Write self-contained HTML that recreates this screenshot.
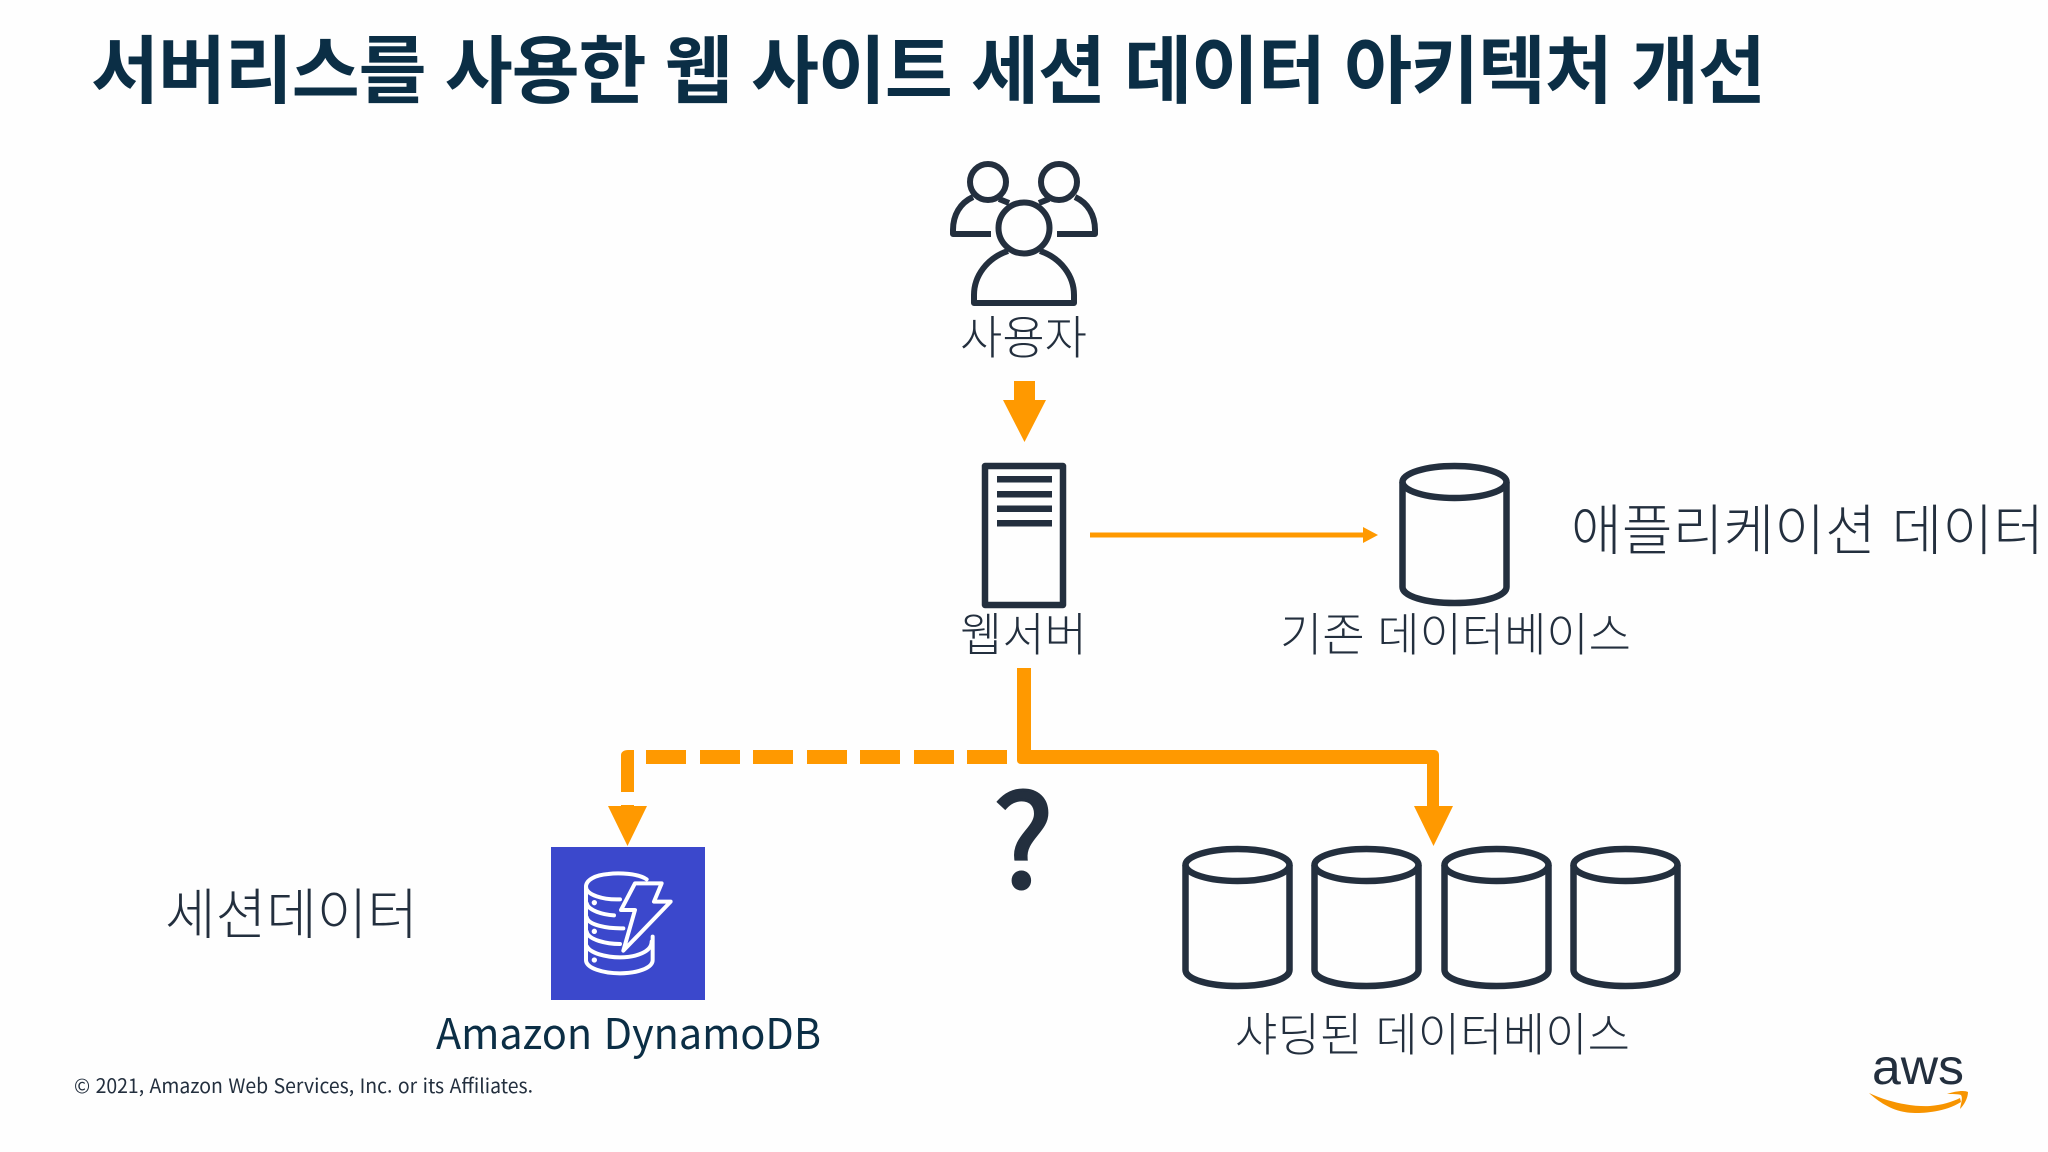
<!DOCTYPE html>
<html lang="ko"><head><meta charset="utf-8"><title>서버리스를 사용한 웹 사이트 세션 데이터 아키텍처 개선</title>
<style>
html,body{margin:0;padding:0;background:#fff;width:2048px;height:1152px;overflow:hidden}
svg{display:block}
.k{font-family:"Liberation Sans","Noto Sans CJK KR",sans-serif;fill:#232f3e;font-weight:300}
.d{fill:none;stroke:#232f3e;stroke-width:6.500;stroke-linejoin:round}
.o{fill:#ff9900}
</style></head><body>
<svg width="2048" height="1152" viewBox="0 0 2048 1152" xmlns="http://www.w3.org/2000/svg">
<rect width="2048" height="1152" fill="#fefefe"/>
<text class="k" x="91" y="97" font-size="74" textLength="1675" lengthAdjust="spacing" style="font-weight:700;fill:#0b2e45">서버리스를 사용한 웹 사이트 세션 데이터 아키텍처 개선</text>

<!-- users -->
<circle class="d" cx="988" cy="182" r="18" style="stroke-width:6"/><circle class="d" cx="1059" cy="182" r="18" style="stroke-width:6"/>
<path class="d" style="stroke-width:6" d="M991 234H953V230C953 215 960 203 973 197M999 199L1009 203M1057 234H1095V230C1095 215 1088 203 1075 197M1049 199L1039 203"/>
<circle class="d" cx="1024" cy="228" r="25.500" style="stroke-width:6"/>
<path class="d" style="stroke-width:6" d="M1008 251C987 258 974 276 974 295V303H1074V295C1074 276 1061 258 1040 251"/>
<text class="k" x="960" y="354" font-size="46" textLength="127" lengthAdjust="spacing">사용자</text>

<!-- arrow 1 -->
<path class="o" d="M1014 381H1035V400H1046L1024.500 442L1003 400H1014Z"/>

<!-- server -->
<rect class="d" x="985" y="466" width="78" height="139"/>
<rect x="997" y="476" width="55" height="6.500" fill="#232f3e"/><rect x="997" y="491" width="55" height="6.500" fill="#232f3e"/><rect x="997" y="505.500" width="55" height="6.500" fill="#232f3e"/><rect x="997" y="520" width="55" height="6.500" fill="#232f3e"/>
<text class="k" x="960" y="651" font-size="46" textLength="127" lengthAdjust="spacing">웹서버</text>

<!-- h arrow -->
<path class="o" d="M1090 532.500H1363V527L1378 535L1363 543V537.500H1090Z"/>

<!-- old db -->
<g><ellipse class="d" cx="1454.500" cy="482" rx="52" ry="16"/><path class="d" d="M1402.500 482V587C1402.500 596 1425 603 1454.500 603C1484 603 1506.500 596 1506.500 587V482"/></g>
<text class="k" x="1280" y="651" font-size="46" textLength="351" lengthAdjust="spacing">기존 데이터베이스</text>
<text class="k" x="1571" y="550" font-size="55" textLength="473" lengthAdjust="spacing">애플리케이션 데이터</text>

<!-- connectors -->
<path class="o" d="M1017 668H1031V750H1434C1437 750 1439 752 1439 755V806H1453L1433.500 846L1414 806H1427V764H1021C1018 764 1017 762 1017 760Z"/>
<g class="o"><rect x="646" y="750" width="40" height="14"/><rect x="700" y="750" width="40" height="14"/><rect x="753" y="750" width="40" height="14"/><rect x="807" y="750" width="40" height="14"/><rect x="860" y="750" width="40" height="14"/><rect x="914" y="750" width="40" height="14"/><rect x="967" y="750" width="40" height="14"/>
<path d="M621 792V755C621 752 624 750 628 750H634V792Z"/>
<path d="M621 805H634V806H647L627.500 846L608 806H621Z"/></g>

<text x="993" y="888" font-size="128" fill="#232f3e" stroke="#232f3e" stroke-width="3" font-family="'Noto Sans CJK KR',sans-serif">?</text>

<!-- dynamodb -->
<rect x="551" y="847" width="154" height="153" fill="#3b48cc"/>
<g transform="translate(540 840) scale(.3333)" fill="none" stroke="#fff" stroke-width="12" stroke-linejoin="round" stroke-linecap="round">
<path d="M320 118C295 100 235 98 205 102C165 105 138 120 138 140C138 165 190 180 240 178"/>
<path d="M138 140V360C138 385 190 400 240 400C290 400 338 385 338 360V290"/>
<path d="M140 190C145 212 190 224 222 226M140 232C145 255 200 266 250 265M140 275C145 300 200 312 240 312M140 318C150 340 200 352 240 352C290 352 335 335 335 305"/>
<path d="M285 130H365L342 185H392L250 332L285 210H243Z" fill="#3b48cc"/>
<g fill="#fff" stroke="none"><circle cx="163" cy="188" r="8"/><circle cx="163" cy="274" r="8"/><circle cx="163" cy="360" r="8"/></g>
</g>

<text x="436" y="1049" font-size="42" textLength="385" lengthAdjust="spacingAndGlyphs" fill="#0b2e45" font-family="'Noto Sans CJK KR','Liberation Sans',sans-serif">Amazon DynamoDB</text>
<text class="k" x="165" y="934" font-size="55" textLength="253" lengthAdjust="spacing">세션데이터</text>

<!-- shards -->
<g><ellipse class="d" cx="1237.500" cy="865" rx="52" ry="16"/><path class="d" d="M1185.500 865V970C1185.500 979 1208 986 1237.500 986C1267 986 1289.500 979 1289.500 970V865"/></g>
<g><ellipse class="d" cx="1366.500" cy="865" rx="52" ry="16"/><path class="d" d="M1314.500 865V970C1314.500 979 1337 986 1366.500 986C1396 986 1418.500 979 1418.500 970V865"/></g>
<g><ellipse class="d" cx="1496.500" cy="865" rx="52" ry="16"/><path class="d" d="M1444.500 865V970C1444.500 979 1467 986 1496.500 986C1526 986 1548.500 979 1548.500 970V865"/></g>
<g><ellipse class="d" cx="1625.500" cy="865" rx="52" ry="16"/><path class="d" d="M1573.500 865V970C1573.500 979 1596 986 1625.500 986C1655 986 1677.500 979 1677.500 970V865"/></g>
<text class="k" x="1235" y="1051" font-size="46" textLength="395" lengthAdjust="spacing">샤딩된 데이터베이스</text>

<text x="74" y="1093" font-size="20" textLength="459" lengthAdjust="spacingAndGlyphs" fill="#232f3e" font-family="'Noto Sans CJK KR','Liberation Sans',sans-serif">© 2021, Amazon Web Services, Inc. or its Affiliates.</text>

<!-- aws -->
<text x="1872" y="1084" font-size="50" textLength="92" lengthAdjust="spacingAndGlyphs" fill="#232f3e" font-family="'Liberation Sans',sans-serif">aws</text>
<path fill="#f79400" d="M1869 1093C1890 1103 1915 1107 1930 1106C1942 1105 1952 1102 1960 1098L1961 1102C1945 1112 1925 1113 1915 1113C1895 1113 1880 1103 1869 1093Z"/>
<path fill="#f79400" d="M1947 1094C1955 1091 1965 1090 1968 1092C1968 1098 1964 1105 1960 1109C1961 1103 1963 1098 1961 1095C1958 1094 1952 1094 1947 1094Z"/>
</svg>
</body></html>
